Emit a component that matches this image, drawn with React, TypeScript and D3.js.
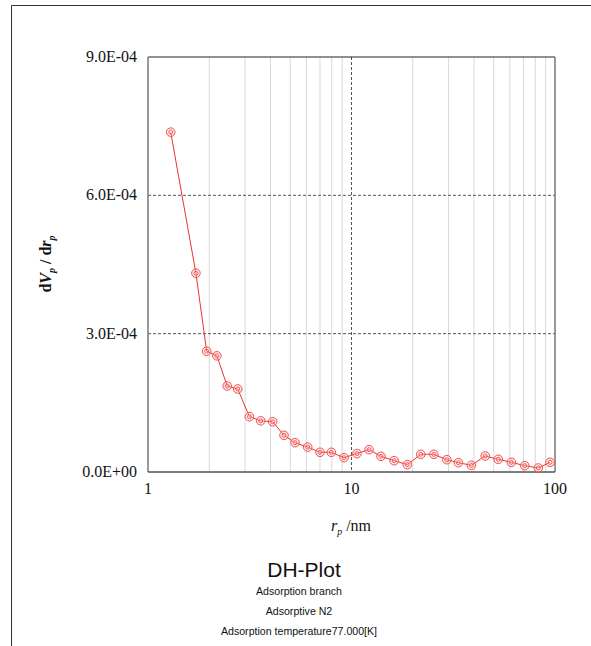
import React from "react";
import * as d3 from "d3";

const poreRadius = [1.293, 1.72, 1.942, 2.18, 2.45, 2.76, 3.15, 3.58, 4.1, 4.66, 5.28, 6.09, 7.0, 7.96, 9.19, 10.64, 12.2, 13.96, 16.2, 18.8, 21.9, 25.4, 29.4, 33.5, 38.8, 45.4, 52.6, 61.0, 71.0, 82.8, 94.5];
const dVdr = [7.37e-4, 4.31e-4, 2.62e-4, 2.52e-4, 1.865e-4, 1.8e-4, 1.2e-4, 1.11e-4, 1.09e-4, 7.95e-5, 6.36e-5, 5.4e-5, 4.27e-5, 4.27e-5, 3.1e-5, 4.0e-5, 4.84e-5, 3.4e-5, 2.45e-5, 1.6e-5, 3.84e-5, 3.84e-5, 2.67e-5, 2.02e-5, 1.45e-5, 3.47e-5, 2.75e-5, 2.1e-5, 1.37e-5, 8.7e-6, 2.1e-5];
const yTicks = [0, 3e-4, 6e-4, 9e-4];
const yTickLabels = ["0.0E+00", "3.0E-04", "6.0E-04", "9.0E-04"];
const xTicks = [1, 10, 100];
const xTickLabels = ["1", "10", "100"];
const minorX = [2, 3, 4, 5, 6, 7, 8, 9, 20, 30, 40, 50, 60, 70, 80, 90];
const subtitles = ["Adsorption branch", "Adsorptive N2", "Adsorption temperature77.000[K]"];

export default function App() {
  const L = 148, R = 555, T = 57, B = 472;
  const x = d3.scaleLog().domain([1, 100]).range([L, R]);
  const y = d3.scaleLinear().domain([0, 9e-4]).range([B, T]);
  const pts = poreRadius.map((r, i) => [x(r), y(dVdr[i])] as [number, number]);
  const line = d3.line()(pts) || "";
  const serif = "'Liberation Serif', 'Times New Roman', serif";
  const sans = "'Liberation Sans', Arial, sans-serif";
  return (
    <svg width={591} height={646} style={{ position: "absolute", left: 0, top: 0 }}>
      <rect x={0} y={0} width={591} height={646} fill="#fff" />
      <line x1={11.5} y1={5.5} x2={591} y2={5.5} stroke="#333" strokeWidth={1} />
      <line x1={11.5} y1={5.5} x2={11.5} y2={646} stroke="#333" strokeWidth={1} />
      {minorX.map((v) => (
        <line key={v} x1={x(v)} x2={x(v)} y1={T} y2={B} stroke="#d8d8d8" strokeWidth={1} />
      ))}
      <line x1={x(10)} x2={x(10)} y1={T} y2={B} stroke="#555" strokeWidth={1} strokeDasharray="3,2" />
      {[3e-4, 6e-4].map((v) => (
        <line key={v} x1={L} x2={R} y1={y(v)} y2={y(v)} stroke="#555" strokeWidth={1} strokeDasharray="3,2" />
      ))}
      <line x1={L} x2={R} y1={T} y2={T} stroke="#222" strokeWidth={1.2} />
      <line x1={R} x2={R} y1={T} y2={B} stroke="#777" strokeWidth={1.5} />
      <line x1={L} x2={L} y1={T} y2={B} stroke="#777" strokeWidth={1.5} />
      <line x1={L} x2={R} y1={B} y2={B} stroke="#555" strokeWidth={1.5} />
      {yTicks.map((v, i) => (
        <text key={v} x={137} y={y(v) + 5} textAnchor="end" fontFamily={serif} fontSize={16} fill="#111">
          {yTickLabels[i]}
        </text>
      ))}
      {xTicks.map((v, i) => (
        <text key={v} x={x(v)} y={494} textAnchor="middle" fontFamily={serif} fontSize={16} fill="#111">
          {xTickLabels[i]}
        </text>
      ))}
      <path d={line} fill="none" stroke="#f03030" strokeWidth={1} />
      {pts.map((p, i) => (
        <g key={i}>
          <circle cx={p[0]} cy={p[1]} r={4.3} fill="rgba(255,200,200,0.35)" stroke="#f05050" strokeWidth={1} />
          <circle cx={p[0]} cy={p[1]} r={2} fill="none" stroke="#f05050" strokeWidth={0.9} />
        </g>
      ))}
      <text x={351} y={531} textAnchor="middle" fontFamily={serif} fontSize={16} fill="#111">
        <tspan fontStyle="italic">r</tspan>
        <tspan fontStyle="italic" fontSize={10} dy={4}>p</tspan>
        <tspan dy={-4}> /nm</tspan>
      </text>
      <text transform="translate(51,264) rotate(-90)" textAnchor="middle" fontFamily={serif} fontSize={16} fontWeight="bold" fill="#111">
        <tspan>d</tspan>
        <tspan fontStyle="italic">V</tspan>
        <tspan fontStyle="italic" fontSize={10} dy={4}>p</tspan>
        <tspan dy={-4}> / d</tspan>
        <tspan fontStyle="italic">r</tspan>
        <tspan fontStyle="italic" fontSize={10} dy={4}>p</tspan>
      </text>
      <text x={304} y={577} textAnchor="middle" fontFamily={sans} fontSize={21} fill="#111">DH-Plot</text>
      {subtitles.map((s, i) => (
        <text key={s} x={299} y={595 + i * 20} textAnchor="middle" fontFamily={sans} fontSize={10.6} fill="#111">
          {s}
        </text>
      ))}
    </svg>
  );
}
